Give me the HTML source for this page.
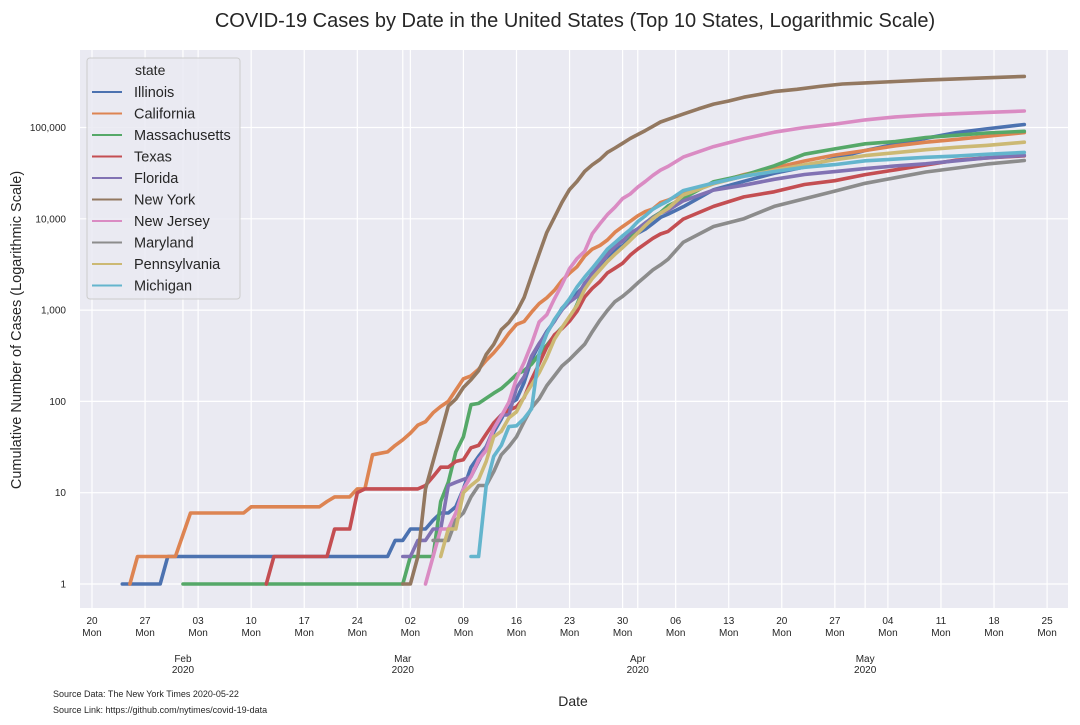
<!DOCTYPE html>
<html><head><meta charset="utf-8"><style>
body{margin:0;background:#fff;font-family:"Liberation Sans",Arial,sans-serif;}
svg text{font-family:"Liberation Sans",Arial,sans-serif;fill:#262626;}
</style></head><body>
<svg id="chart" width="1080" height="720" xmlns="http://www.w3.org/2000/svg">
<rect width="1080" height="720" fill="#fff"/>
<rect x="80" y="50" width="988" height="558" fill="#EAEAF2"/>
<g id="grid"></g>
<g id="series"></g>
<g id="axes"></g>
<text x="575" y="27" text-anchor="middle" font-size="20">COVID-19 Cases by Date in the United States (Top 10 States, Logarithmic Scale)</text>
<text transform="translate(21,330) rotate(-90)" text-anchor="middle" font-size="14.5">Cumulative Number of Cases (Logarithmic Scale)</text>
<text x="573" y="706" text-anchor="middle" font-size="14">Date</text>
<text x="53" y="697" font-size="9">Source Data: The New York Times 2020-05-22</text>
<text x="53" y="713" font-size="9">Source Link: https://github.com/nytimes/covid-19-data</text>
<g id="legend"></g>
</svg>
<script>
// Day index 0 = 2020-01-20
const stateNames = ["Illinois","California","Massachusetts","Texas","Florida","New York","New Jersey","Maryland","Pennsylvania","Michigan"];
const ilDays = [4,9,10,39,40,41,42,44,45,46,47,48,49,50,51,52,53,54,55,56,57,58,59,60,61,62,63,64,65,66,67,68,69,70,71,72,73,74,75,76,78,82,86,90,94,98,102,106,110,114,118,123];
const ilVals = [1,1,2,2,3,3,4,4,5,6,6,7,11,19,25,32,46,64,93,105,161,288,422,585,753,1049,1285,1535,1865,2538,3024,3491,4596,5057,5994,6980,7695,8904,10357,11256,13549,20852,25733,31508,36934,46102,56055,65962,76085,87937,96485,107796];
const caDays = [5,6,11,13,20,21,30,31,32,34,35,36,37,38,39,40,41,42,43,44,45,46,47,48,49,50,51,52,53,54,55,56,57,58,59,60,61,62,63,64,65,66,67,68,69,70,71,72,73,74,75,76,78,82,86,90,94,98,102,106,110,114,118,123];
const caVals = [1,2,2,6,6,7,7,8,9,9,11,11,26,27,28,33,38,45,55,60,75,88,100,133,177,190,225,282,340,426,557,698,751,952,1177,1364,1646,2108,2538,2998,3899,4657,5095,5852,7138,8210,9399,10773,12004,12837,15034,16019,19043,24424,30491,36000,43000,50000,56000,63000,69000,74000,80000,88000];
const maDays = [12,41,42,45,46,47,48,49,50,51,52,53,54,55,56,57,58,59,60,61,62,63,64,65,66,67,68,69,70,71,72,73,74,75,76,78,82,86,90,94,98,102,106,110,114,118,123];
const maVals = [1,1,2,2,8,13,28,41,92,95,108,123,138,164,197,218,256,328,413,525,646,777,1159,1838,2417,3240,4257,4955,5752,6620,7738,8966,10402,11736,13837,16790,25475,29918,38077,50969,58302,66263,70271,77793,82182,87052,90889];
const txDays = [23,24,31,32,34,35,36,43,44,45,46,47,48,49,50,51,52,53,54,55,56,57,58,59,60,61,62,63,64,65,66,67,68,69,70,71,72,73,74,75,76,78,82,86,90,94,98,102,106,110,114,118,123];
const txVals = [1,2,2,4,4,10,11,11,12,15,19,19,22,23,31,33,44,58,71,80,87,110,174,260,394,535,627,758,974,1396,1731,2052,2552,2877,3266,3997,4669,5330,6110,6812,7276,9920,13677,17371,19751,23773,26171,30522,34422,38869,43851,46500,49000];
const flDays = [41,42,43,44,45,46,47,48,49,50,51,52,53,54,55,56,57,58,59,60,61,62,63,64,65,66,67,68,69,70,71,72,73,74,75,76,78,82,86,90,94,98,102,106,110,114,118,123];
const flVals = [2,2,3,3,4,4,12,13,14,15,22,32,50,71,71,141,186,314,432,564,761,1007,1226,1413,1977,2484,3198,4038,4943,5704,6957,7773,9008,10268,11545,12350,15698,20601,23340,27059,30533,32846,35463,38002,40001,43210,46442,49451];
const nyDays = [41,42,43,44,45,46,47,48,49,50,51,52,53,54,55,56,57,58,59,60,61,62,63,64,65,66,67,68,69,70,71,72,73,74,75,76,77,78,80,82,84,86,88,90,93,96,99,102,106,110,114,118,123];
const nyVals = [1,1,2,11,22,44,89,106,142,173,217,326,421,610,732,950,1375,2385,4152,7102,10356,15168,20875,25665,33066,38987,44635,53363,59568,67174,75832,83889,92506,102987,114996,122911,131239,140081,159937,180458,195031,214454,229642,247512,262268,282143,299691,308314,318953,330407,340657,350121,362764];
const njDays = [44,45,46,47,48,49,50,51,52,53,54,55,56,57,58,59,60,61,62,63,64,65,66,67,68,69,70,71,72,73,74,75,76,78,82,86,90,94,98,102,106,110,114,118,123];
const njVals = [1,2,4,4,6,11,15,23,29,50,69,98,178,267,427,742,890,1327,1914,2844,3675,4402,6876,8825,11124,13386,16636,18696,22255,25590,29895,34124,37505,47437,61850,75317,88806,99989,109038,121190,130593,137085,141560,146334,151472];
const mdDays = [45,47,48,49,50,51,52,53,54,55,56,57,58,59,60,61,62,63,64,65,66,67,68,69,70,71,72,73,74,75,76,78,82,86,90,94,98,102,106,110,114,118,123];
const mdVals = [3,3,5,6,9,12,12,17,26,32,41,60,85,107,149,190,244,288,349,423,580,774,992,1239,1413,1660,1985,2331,2758,3125,3609,5529,8225,10032,13684,16616,20113,24473,28163,32587,35903,39762,43531];
const paDays = [46,47,48,49,50,51,52,53,54,55,56,57,58,59,60,61,62,63,64,65,66,67,68,69,70,71,72,73,74,75,76,78,82,86,90,94,98,102,106,110,114,118,123];
const paVals = [2,4,4,10,12,14,22,41,47,66,77,112,152,206,303,479,644,851,1127,1687,2218,2751,3394,4087,4843,5805,7016,8420,10017,11510,12980,18228,24199,29441,33914,39041,44366,49267,52915,57154,60622,63666,69000];
const miDays = [50,51,52,53,54,55,56,57,58,59,60,61,62,63,64,65,66,67,68,69,70,71,72,73,74,75,76,78,82,86,90,94,98,102,106,110,114,118,123];
const miVals = [2,2,12,25,33,53,54,65,83,334,552,788,1035,1329,1793,2296,2878,3657,4658,5488,6498,7615,9315,10791,12744,14225,15718,20346,24638,29263,32967,36641,39262,43207,45054,47138,48582,50915,53365];
const seriesDays = [ilDays,caDays,maDays,txDays,flDays,nyDays,njDays,mdDays,paDays,miDays];
const seriesVals = [ilVals,caVals,maVals,txVals,flVals,nyVals,njVals,mdVals,paVals,miVals];
const colors = ["#4C72B0","#DD8452","#55A868","#C44E52","#8172B3","#937860","#DA8BC3","#8C8C8C","#CCB974","#64B5CD"];
const yTicks = [1,10,100,1000,10000,100000];
const yTickLabels = ["1","10","100","1,000","10,000","100,000"];
const xTickLabels = ["20","27","03","10","17","24","02","09","16","23","30","06","13","20","27","04","11","18","25"];
const monthDays = [12,41,72,102];
const monthLabels = ["Feb","Mar","Apr","May"];

const NS="http://www.w3.org/2000/svg";
function xs(d){return 92 + d*7.58;}
function ys(v){return 584 - Math.log10(v)*91.3;}
function mk(tag,attrs,parent){const e=document.createElementNS(NS,tag);for(const k in attrs)e.setAttribute(k,attrs[k]);parent.appendChild(e);return e;}
const grid=document.getElementById('grid'), axes=document.getElementById('axes'), ser=document.getElementById('series'), leg=document.getElementById('legend');

yTicks.forEach((t,i)=>{
  const l=mk('line',{x1:80,x2:1068,y1:ys(t),y2:ys(t),stroke:'#fff','stroke-width':1.2},grid);
  
  
  const tx=mk('text',{x:66,y:ys(t)+3.5,'text-anchor':'end','font-size':10},axes);
  tx.textContent=yTickLabels[i];
  
  
});
xTickLabels.forEach((lab,i)=>{
  const x=xs(i*7);
  const l=mk('line',{x1:x,x2:x,y1:50,y2:608,stroke:'#fff','stroke-width':1.2},grid);
  
  
  const t=mk('text',{x:x,y:624,'text-anchor':'middle','font-size':10},axes);
  t.textContent=lab;
  
  
  const t2=mk('text',{x:x,y:636,'text-anchor':'middle','font-size':10},axes);
  t2.textContent='Mon';
  
  
});
monthDays.forEach((d,i)=>{
  const x=xs(d);
  const l=mk('line',{x1:x,x2:x,y1:50,y2:608,stroke:'#fff','stroke-width':1.2},grid);
  
  
  const t=mk('text',{x:x,y:662,'text-anchor':'middle','font-size':10},axes);
  t.textContent=monthLabels[i];
  
  
  const t2=mk('text',{x:x,y:673,'text-anchor':'middle','font-size':10},axes);
  t2.textContent='2020';
  
  
});
stateNames.forEach((n,i)=>{
  const pts=seriesDays[i].map((d,j)=>xs(d).toFixed(1)+','+ys(seriesVals[i][j]).toFixed(1)).join(' ');
  const p=mk('polyline',{points:pts,fill:'none',stroke:colors[i],'stroke-width':3.6,'stroke-linejoin':'round','stroke-linecap':'round'},ser);
  
  
});
const box=mk('rect',{x:87,y:58,width:153,height:241,rx:3,fill:'#EAEAF2','fill-opacity':0.85,stroke:'#cccccc','stroke-width':1},leg);


const tt=mk('text',{x:135,y:75,'font-size':14},leg);
tt.textContent='state';


stateNames.forEach((n,i)=>{
  const y=92+i*21.5;
  const g=mk('g',{},leg);
  
  
  mk('line',{x1:92,x2:122,y1:y,y2:y,stroke:colors[i],'stroke-width':2},g);
  const t=mk('text',{x:134,y:y+5,'font-size':14.5},g);
  t.textContent=n;
});
</script>
</body></html>
